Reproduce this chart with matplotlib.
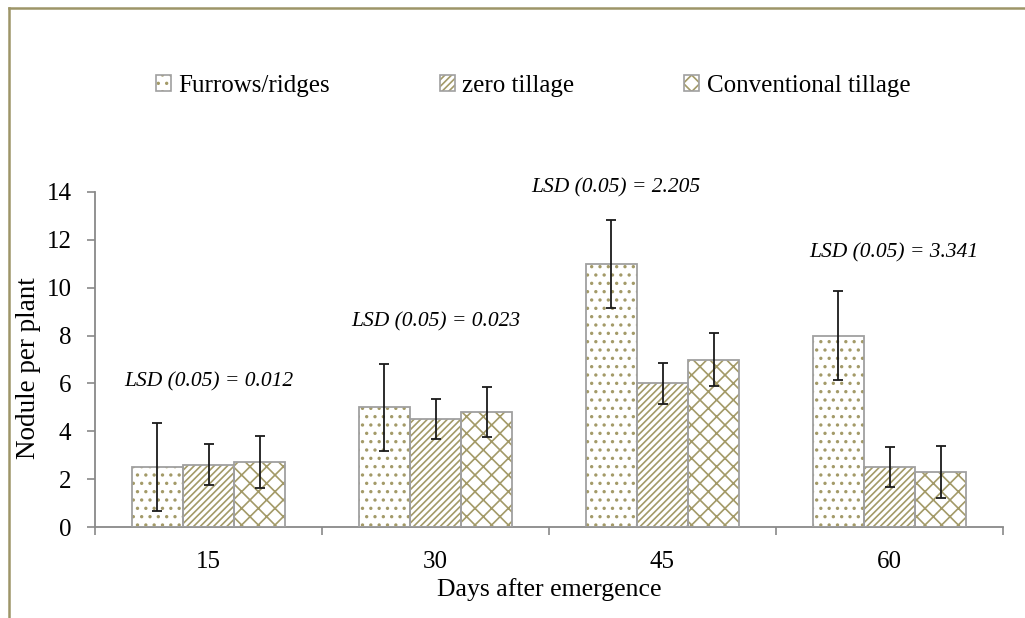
import matplotlib.pyplot as plt
import numpy as np
from matplotlib.lines import Line2D
from matplotlib.patches import Patch
from matplotlib.legend_handler import HandlerTuple

plt.rcParams['font.family'] = ['Liberation Serif', 'DejaVu Serif']
plt.rcParams['hatch.linewidth'] = 1.2

days = ['15', '30', '45', '60']
series = ['Furrows/ridges', 'zero tillage', 'Conventional tillage']
furrows = [2.5, 5.0, 11.0, 8.0]
zero = [2.6, 4.5, 6.0, 2.5]
conventional = [2.7, 4.8, 7.0, 2.3]
furrows_err = [1.85, 1.83, 1.83, 1.85]
zero_err = [0.86, 0.83, 0.84, 0.84]
conventional_err = [1.09, 1.05, 1.1, 1.09]
lsd_labels = ['LSD (0.05) = 0.012', 'LSD (0.05) = 0.023',
              'LSD (0.05) = 2.205', 'LSD (0.05) = 3.341']
lsd_y = [6.07, 8.58, 14.17, 11.45]

hatch_col = '#a39a68'
edge_col = '#a0a0a0'
axis_col = '#898989'
hatches = ['..', '/////', 'xx']

fig = plt.figure(figsize=(10.25, 6.18), dpi=100)
ax = fig.add_axes([95 / 1025, 1 - 527 / 618, 908 / 1025, 335 / 618])

x = np.arange(len(days))
w = 0.225
values = [furrows, zero, conventional]
errors = [furrows_err, zero_err, conventional_err]
handles = []
for i, (vals, errs) in enumerate(zip(values, errors)):
    pos = x + (i - 1) * w
    ax.bar(pos, vals, w, color='white', edgecolor=hatch_col, linewidth=0,
           hatch=hatches[i], zorder=2)
    ax.bar(pos, vals, w, color='none', edgecolor=edge_col, linewidth=1.3, zorder=3)
    ax.errorbar(pos, vals, yerr=errs, fmt='none', ecolor='#1a1a1a',
                elinewidth=1.3, capsize=3.5, capthick=1.3, zorder=4)
    h1 = Patch(facecolor='white', edgecolor=hatch_col, linewidth=0, hatch=hatches[i])
    h2 = Patch(facecolor='none', edgecolor=edge_col, linewidth=1.2)
    handles.append((h1, h2))

# LSD notes
lsd_x = [0, 1, 1.795, 3.02]
for lx, ly, txt in zip(lsd_x, lsd_y, lsd_labels):
    ax.text(lx, ly, txt, ha='center', va='center', fontsize=15.5,
            style='italic', clip_on=False)

ax.set_xlim(-0.5, 3.5)
ax.set_ylim(0, 14)
ax.set_yticks(np.arange(0, 15, 2))
ax.set_xticks(x)
ax.set_xticklabels(days)
ax.set_xticks(np.arange(-0.5, 4, 1), minor=True)
ax.tick_params(axis='x', which='major', length=0, pad=17, labelsize=18)
ax.tick_params(axis='x', which='minor', length=6, width=1.2, color=axis_col, direction='out')
ax.tick_params(axis='y', length=6, width=1.2, color=axis_col, pad=11, labelsize=18)

for s in ['top', 'right']:
    ax.spines[s].set_visible(False)
for s in ['left', 'bottom']:
    ax.spines[s].set_color(axis_col)
    ax.spines[s].set_linewidth(1.3)

ax.set_xlabel('Days after emergence', fontsize=18.5, labelpad=4)
ax.set_ylabel('Nodule per plant', fontsize=19.5)
ax.yaxis.set_label_coords(-0.06, 0.475)

fig.legend(handles, series, loc='center', bbox_to_anchor=(0.52, 1 - 86 / 618),
           ncol=3, frameon=False, fontsize=18, handlelength=0.6, handleheight=0.6,
           handletextpad=0.3, columnspacing=4.4,
           handler_map={tuple: HandlerTuple(ndivide=1)})

# outer frame (only top and left edges visible)
fig.add_artist(Line2D([9 / 1025, 1], [1 - 8 / 618, 1 - 8 / 618], color='#9d9568', lw=1.8))
fig.add_artist(Line2D([9 / 1025, 9 / 1025], [0, 1 - 8 / 618], color='#9d9568', lw=1.8))

fig.savefig('out.png', dpi=100)
